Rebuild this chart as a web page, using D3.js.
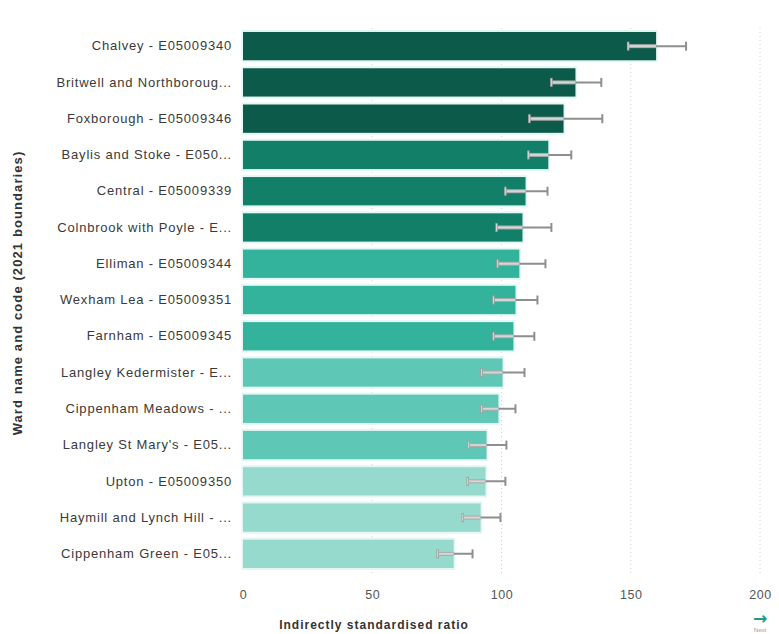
<!DOCTYPE html>
<html>
<head>
<meta charset="utf-8">
<script src="https://cdn.jsdelivr.net/npm/d3@7"></script>
<style>
  html, body { margin: 0; padding: 0; background: #ffffff; }
  svg { display: block; }
</style>
</head>
<body>
<svg id="chart" width="779" height="634"></svg>
<script>
// ---- data ----
const wards = [
  "Chalvey - E05009340",
  "Britwell and Northboroug...",
  "Foxborough - E05009346",
  "Baylis and Stoke - E050...",
  "Central - E05009339",
  "Colnbrook with Poyle - E...",
  "Elliman - E05009344",
  "Wexham Lea - E05009351",
  "Farnham - E05009345",
  "Langley Kedermister - E...",
  "Cippenham Meadows - ...",
  "Langley St Mary's - E05...",
  "Upton - E05009350",
  "Haymill and Lynch Hill - ...",
  "Cippenham Green - E05..."
];
const ratio = [159.8, 128.6, 124.0, 118.1, 109.3, 108.1, 106.9, 105.4, 104.6, 100.4, 98.8, 94.2, 93.8, 91.9, 81.5];
const lowerCI = [149.0, 119.3, 110.8, 110.4, 101.5, 98.1, 98.5, 96.9, 96.9, 92.3, 92.3, 87.3, 86.9, 85.0, 75.3];
const upperCI = [171.4, 138.6, 139.0, 127.0, 117.8, 119.3, 117.0, 113.9, 112.7, 108.9, 105.4, 101.9, 101.5, 99.6, 88.8];
const colourGroup = [0, 0, 0, 1, 1, 1, 2, 2, 2, 3, 3, 3, 4, 4, 4];
const palette = ["#0b5a4a", "#128069", "#33b39c", "#5fc7b5", "#96dacd"];
const xTicks = [0, 50, 100, 150, 200];
const xTitle = "Indirectly standardised ratio";
const yTitle = "Ward name and code (2021 boundaries)";

const rows = wards.map((w, i) => ({ w, v: ratio[i], lo: lowerCI[i], hi: upperCI[i], g: colourGroup[i] }));

// ---- layout ----
const svg = d3.select("#chart");
const x = d3.scaleLinear().domain([0, 200]).range([243, 760]);
const y = d3.scaleBand().domain(wards).range([28, 572]).paddingInner(0.22).paddingOuter(0.11);
const font = "'Liberation Sans', Arial, sans-serif";

// gridlines
svg.append("g").selectAll("line").data(xTicks.filter(t => t > 0)).join("line")
  .attr("x1", d => x(d)).attr("x2", d => x(d))
  .attr("y1", 28).attr("y2", 574)
  .attr("stroke", "#d2d2d2").attr("stroke-width", 1)
  .attr("stroke-dasharray", "1,3");

// bar halo
svg.append("g").selectAll("rect").data(rows).join("rect")
  .attr("x", x(0) - 1.5)
  .attr("y", d => y(d.w) - 2)
  .attr("width", d => x(d.v) - x(0) + 3)
  .attr("height", y.bandwidth() + 4)
  .attr("fill", "#e2f7f4");

// bars
svg.append("g").selectAll("rect").data(rows).join("rect")
  .attr("x", x(0))
  .attr("y", d => y(d.w))
  .attr("width", d => x(d.v) - x(0))
  .attr("height", y.bandwidth())
  .attr("fill", d => palette[d.g]);

// error bars
const eb = svg.append("g").selectAll("g").data(rows).join("g")
  .attr("transform", d => `translate(0,${y(d.w) + y.bandwidth() / 2})`);
eb.append("line")
  .attr("x1", d => x(d.lo)).attr("x2", d => x(d.hi))
  .attr("y1", 0).attr("y2", 0)
  .attr("stroke", "#8e8e8e").attr("stroke-width", 2);
eb.append("line")
  .attr("x1", d => x(d.lo)).attr("x2", d => x(Math.min(d.v, d.hi)))
  .attr("y1", 0).attr("y2", 0)
  .attr("stroke", "#a9a9a9").attr("stroke-width", 4);
eb.append("line")
  .attr("x1", d => x(d.lo)).attr("x2", d => x(Math.min(d.v, d.hi)))
  .attr("y1", 0).attr("y2", 0)
  .attr("stroke", "#d6d6d6").attr("stroke-width", 2);
eb.append("line")
  .attr("x1", d => x(d.lo)).attr("x2", d => x(d.lo))
  .attr("y1", -4.5).attr("y2", 4.5)
  .attr("stroke", "#a0a0a0").attr("stroke-width", 2.5);
eb.append("line")
  .attr("x1", d => x(d.lo)).attr("x2", d => x(d.lo))
  .attr("y1", -3.5).attr("y2", 3.5)
  .attr("stroke", "#d8d8d8").attr("stroke-width", 1);
eb.append("line")
  .attr("x1", d => x(d.hi)).attr("x2", d => x(d.hi))
  .attr("y1", -4.5).attr("y2", 4.5)
  .attr("stroke", "#8e8e8e").attr("stroke-width", 2);

// y axis (category labels)
const yAxis = svg.append("g")
  .attr("transform", `translate(${x(0)},0)`)
  .call(d3.axisLeft(y).tickSize(0).tickPadding(11));
yAxis.select(".domain").remove();
yAxis.selectAll("text")
  .attr("fill", "#3a3a3a")
  .style("font-family", font)
  .style("font-size", "13px")
  .style("letter-spacing", "0.8px");

// x axis
const xAxis = svg.append("g")
  .attr("transform", `translate(0,587)`)
  .call(d3.axisBottom(x).tickValues(xTicks).tickSize(0).tickPadding(3));
xAxis.select(".domain").remove();
xAxis.selectAll("text")
  .attr("fill", "#555")
  .style("font-family", font)
  .style("font-size", "12.5px")
  .style("letter-spacing", "0.5px");

// axis titles
svg.append("text")
  .attr("x", 374).attr("y", 629)
  .attr("text-anchor", "middle")
  .attr("fill", "#333")
  .style("font-family", font)
  .style("font-size", "12px")
  .style("font-weight", "bold")
  .style("letter-spacing", "1px")
  .text(xTitle);

svg.append("text")
  .attr("transform", "translate(22,293) rotate(-90)")
  .attr("text-anchor", "middle")
  .attr("fill", "#333")
  .style("font-family", font)
  .style("font-size", "13px")
  .style("font-weight", "bold")
  .style("letter-spacing", "1.1px")
  .text(yTitle);

// next arrow bottom-right
svg.append("text")
  .attr("x", 760).attr("y", 624)
  .attr("text-anchor", "middle")
  .attr("fill", "#1a9c86")
  .style("font-family", "'DejaVu Sans', sans-serif")
  .style("font-size", "17px")
  .style("font-weight", "bold")
  .text("→");
svg.append("text")
  .attr("x", 760).attr("y", 632)
  .attr("text-anchor", "middle")
  .attr("fill", "#999")
  .style("font-family", font)
  .style("font-size", "6px")
  .text("Next");
</script>
</body>
</html>
